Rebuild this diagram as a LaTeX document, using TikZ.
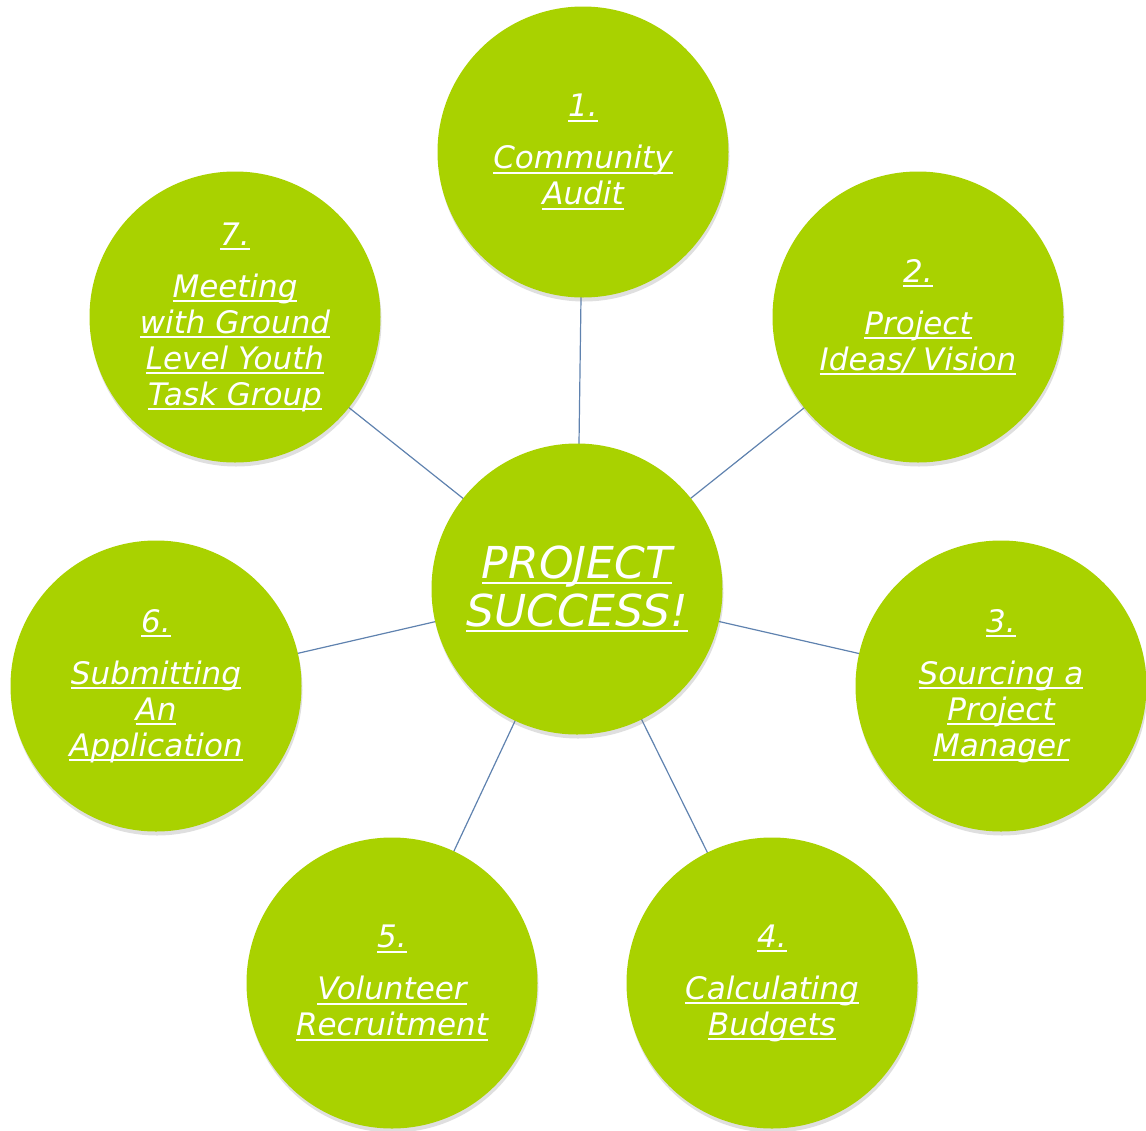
\documentclass[tikz,border=0pt]{standalone}
\usepackage{fontspec}
\setmainfont{DejaVu Sans}
\usetikzlibrary{shadows}
\definecolor{bubgreen}{RGB}{169,210,0}
\definecolor{linkblue}{RGB}{95,130,175}
\newcommand{\ulx}[1]{\setbox0\hbox{#1}\rlap{\rule[-5pt]{\wd0}{2.2pt}}\box0}
\tikzset{
  bub/.style={circle, minimum size=291pt, inner sep=0pt, fill=bubgreen,
    drop shadow={opacity=0.25, shadow xshift=1pt, shadow yshift=-4pt},
    text=white, align=center,
    font=\fontsize{31pt}{36pt}\selectfont\itshape},
  hub/.style={bub, font=\fontsize{44pt}{44pt}\selectfont\itshape},
  link/.style={draw=linkblue, line width=1.2pt}
}
\begin{document}
\begin{tikzpicture}[x=1pt,y=-1pt]
\useasboundingbox (0,0) rectangle (1146,1130);
\coordinate (c0) at (577,589);
\coordinate (c1) at (583,152);
\coordinate (c2) at (918,317);
\coordinate (c3) at (1001,686);
\coordinate (c4) at (772,983);
\coordinate (c5) at (392,983);
\coordinate (c6) at (156,686);
\coordinate (c7) at (235,317);
\foreach \i in {1,...,7} { \draw[link] (c0) -- (c\i); }
\node[hub] (hub) at (c0) {\ulx{PROJECT}\\[4pt]\ulx{SUCCESS!}};
\node[bub] (n1) at (c1) {\ulx{1.}\\[16pt]\ulx{Community}\\\ulx{Audit}};
\node[bub] (n2) at (c2) {\ulx{2.}\\[16pt]\ulx{Project}\\\ulx{Ideas/ Vision}};
\node[bub] (n3) at (c3) {\ulx{3.}\\[16pt]\ulx{Sourcing a}\\\ulx{Project}\\\ulx{Manager}};
\node[bub] (n4) at (c4) {\ulx{4.}\\[16pt]\ulx{Calculating}\\\ulx{Budgets}};
\node[bub] (n5) at (c5) {\ulx{5.}\\[16pt]\ulx{Volunteer}\\\ulx{Recruitment}};
\node[bub] (n6) at (c6) {\ulx{6.}\\[16pt]\ulx{Submitting}\\\ulx{An}\\\ulx{Application}};
\node[bub] (n7) at (c7) {\ulx{7.}\\[16pt]\ulx{Meeting}\\\ulx{with Ground}\\\ulx{Level Youth}\\\ulx{Task Group}};
\end{tikzpicture}
\end{document}
